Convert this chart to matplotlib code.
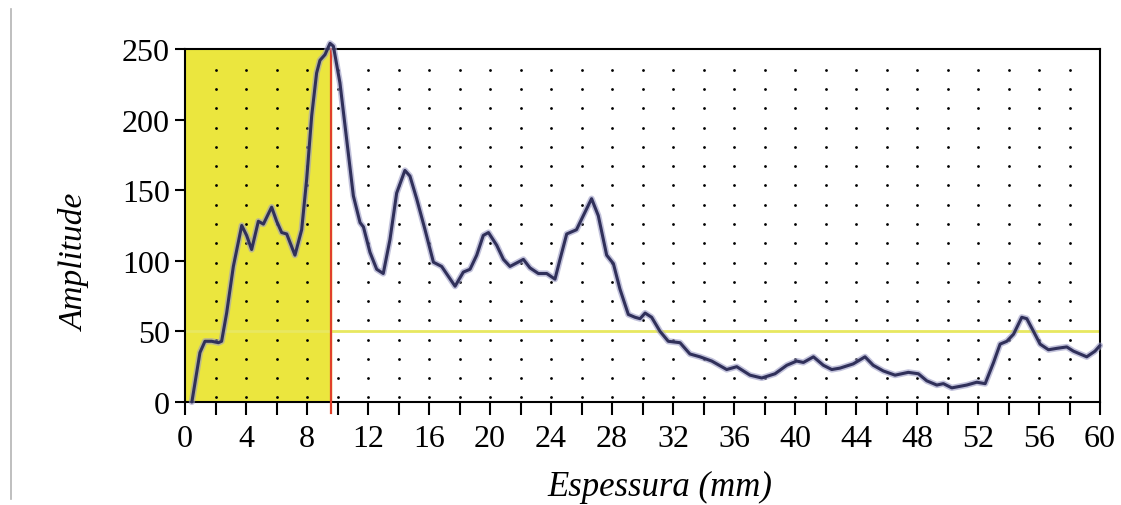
import matplotlib
matplotlib.use("Agg")
import matplotlib.pyplot as plt
from matplotlib.lines import Line2D
import numpy as np

# curve (thickness in mm, amplitude)
espessura = [0.45, 0.98, 1.31, 1.75, 2.19, 2.40, 2.73, 3.17, 3.72, 4.04, 4.37, 4.81,
             5.14, 5.68, 6.01, 6.34, 6.67, 7.21, 7.65, 7.98, 8.31, 8.63, 8.85, 9.18,
             9.51, 9.73, 10.16, 10.6, 11.04, 11.48, 11.7, 12.13, 12.57, 13.0, 13.44,
             13.88, 14.42, 14.75, 15.19, 15.74, 16.29, 16.83, 17.27, 17.71, 18.25,
             18.69, 19.13, 19.56, 19.9, 20.44, 20.88, 21.31, 22.19, 22.62, 23.17,
             23.72, 24.26, 24.59, 25.03, 25.67, 26.12, 26.66, 27.1, 27.65, 28.09,
             28.52, 29.07, 29.51, 29.84, 30.17, 30.6, 31.15, 31.69, 32.46, 33.11,
             33.77, 34.54, 35.52, 36.18, 37.05, 37.82, 38.69, 39.46, 40.11, 40.55,
             41.21, 41.86, 42.41, 42.95, 43.82, 44.59, 45.13, 45.79, 46.56, 47.43,
             48.09, 48.64, 49.3, 49.73, 50.28, 51.26, 51.92, 52.47, 53.02, 53.45,
             53.89, 54.33, 54.87, 55.2, 55.64, 56.07, 56.62, 57.17, 57.82, 58.26,
             59.13, 59.67, 60.0]
amplitude = [0, 35, 43, 43, 42, 43, 63, 96, 125, 118, 108, 128,
             126, 138, 128, 120, 119, 104, 122, 158, 203, 233, 242, 246,
             254, 252, 226, 186, 146, 127, 124, 106, 94, 91, 115,
             148, 164, 160, 144, 122, 99, 96, 89, 82, 92,
             94, 104, 118, 120, 111, 101, 96, 101, 95, 91,
             91, 87, 101, 119, 122, 132, 144, 132, 104, 98,
             80, 62, 60, 59, 63, 60, 50, 43, 42, 34,
             32, 29, 23, 25, 19, 17, 20, 26, 29, 28,
             32, 26, 23, 24, 27, 32, 26, 22, 19, 21,
             20, 15, 12, 13, 10, 12, 14, 13, 28, 41,
             43, 48, 60, 59, 50, 41, 37, 38, 39, 36,
             32, 36, 40]

limite_espessura = 9.6
limite_amplitude = 50
x_ticks = list(range(0, 61, 2))
x_labels = [str(t) if t % 4 == 0 else "" for t in x_ticks]
y_ticks = [0, 50, 100, 150, 200, 250]

serif = ["Liberation Serif", "DejaVu Serif"]

fig = plt.figure(figsize=(11.21, 5.06), dpi=100)
ax = fig.add_axes([185 / 1121, 1 - 403 / 506, 915 / 1121, 353 / 506])

# yellow zone before the limit
ax.axvspan(0, limite_espessura, color="#ebe63e", zorder=0)

# dotted grid
gx, gy = np.meshgrid(np.arange(2, 59, 2), np.linspace(3.3, 235.2, 18))
ax.scatter(gx.ravel(), gy.ravel(), s=4, color="black", linewidths=0, zorder=1)

ax.axhline(limite_amplitude, color="#e8e860", lw=2, zorder=2)
ax.plot([limite_espessura, limite_espessura], [-8, 250], color="#e0402a",
        lw=1.6, zorder=3, clip_on=False)

# curve with a light halo
ax.plot(espessura, amplitude, color="#9a9ac4", lw=4.5, alpha=0.6, zorder=4,
        clip_on=False, solid_joinstyle="round", solid_capstyle="round")
ax.plot(espessura, amplitude, color="#30305a", lw=2.2, zorder=5,
        clip_on=False, solid_joinstyle="round", solid_capstyle="round")

ax.set_xlim(0, 60)
ax.set_ylim(0, 250)
ax.set_xticks(x_ticks)
ax.set_xticklabels(x_labels, family=serif, fontsize=23)
ax.set_yticks(y_ticks)
ax.set_yticklabels([str(v) for v in y_ticks], family=serif, fontsize=23)
ax.tick_params(axis="x", direction="out", length=9, width=1.5, pad=7)
ax.tick_params(axis="y", direction="out", length=7, width=1.5, pad=4)
for s in ax.spines.values():
    s.set_linewidth(1.5)
    s.set_color("black")

fig.text(75 / 1121, 1 - 262 / 506, "Amplitude", rotation=90, ha="center",
         va="center", family=serif, style="italic", fontsize=24)
fig.text(660 / 1121, 1 - 487 / 506, "Espessura (mm)", ha="center", va="center",
         family=serif, style="italic", fontsize=25)

# thin grey border line at the left of the figure
fig.add_artist(Line2D([11 / 1121, 11 / 1121], [1 - 10 / 506, 1 - 500 / 506],
                      transform=fig.transFigure, color="#b4b4b4", lw=1.2))

fig.savefig("out.png", dpi=100)
